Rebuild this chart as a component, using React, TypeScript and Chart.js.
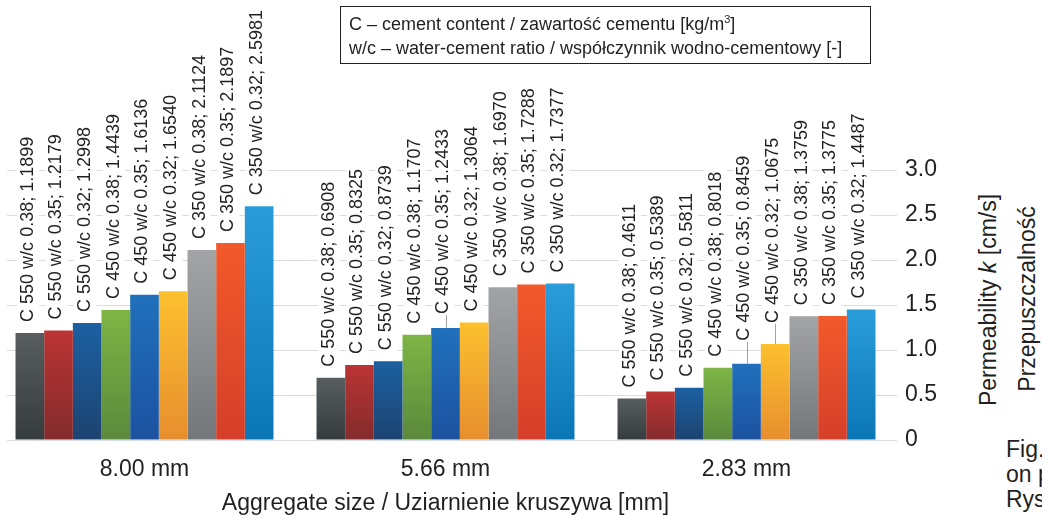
import React, { useEffect, useRef } from "react";
import { Chart, registerables } from "chart.js";

Chart.register(...registerables);

// ---- data ----
const categories = ["8.00 mm", "5.66 mm", "2.83 mm"];
const seriesNames = [
  "C 550 w/c 0.38",
  "C 550 w/c 0.35",
  "C 550 w/c 0.32",
  "C 450 w/c 0.38",
  "C 450 w/c 0.35",
  "C 450 w/c 0.32",
  "C 350 w/c 0.38",
  "C 350 w/c 0.35",
  "C 350 w/c 0.32",
];
const c550wc038 = [1.1899, 0.6908, 0.4611];
const c550wc035 = [1.2179, 0.8325, 0.5389];
const c550wc032 = [1.2998, 0.8739, 0.5811];
const c450wc038 = [1.4439, 1.1707, 0.8018];
const c450wc035 = [1.6136, 1.2433, 0.8459];
const c450wc032 = [1.654, 1.3064, 1.0675];
const c350wc038 = [2.1124, 1.697, 1.3759];
const c350wc035 = [2.1897, 1.7288, 1.3775];
const c350wc032 = [2.5981, 1.7377, 1.4487];
const seriesValues = [
  c550wc038, c550wc035, c550wc032,
  c450wc038, c450wc035, c450wc032,
  c350wc038, c350wc035, c350wc032,
];
const yTickValues = [0, 0.5, 1.0, 1.5, 2.0, 2.5, 3.0];

// ---- styles ----
const topColors = ["#585e60", "#bb3434", "#1c60a2", "#7eb545", "#2070bc", "#fcc02e", "#a2a4a6", "#f25a2b", "#2b9cda"];
const bottomColors = ["#363c3d", "#842b2c", "#1d4370", "#5a893c", "#1c52a0", "#e78e2e", "#74777a", "#d53f29", "#0b76b6"];
const FONT = "'Liberation Sans', Arial, Helvetica, sans-serif";
const TEXT = "#231f20";
// extra lift of some value labels (pixels), keyed "dataIndex-datasetIndex"; shown with a leader line
const labelLift: Record<string, number> = { "1-4": 3, "2-4": 12, "2-5": 10 };

const labelPlugin = {
  id: "barLabels",
  beforeDatasetsDraw(chart: any) {
    const { ctx, chartArea } = chart;
    ctx.save();
    ctx.fillStyle = "#ffffff";
    ctx.fillRect(0, chartArea.top - 2, 13, chartArea.bottom - chartArea.top + 4);
    ctx.restore();
  },
  afterDatasetsDraw(chart: any) {
    const { ctx } = chart;
    ctx.save();
    ctx.font = `18px ${FONT}`;
    chart.data.datasets.forEach((ds: any, di: number) => {
      const meta = chart.getDatasetMeta(di);
      meta.data.forEach((el: any, i: number) => {
        const v = ds.data[i] as number;
        const text = `${seriesNames[di]}; ${v.toFixed(4)}`;
        const lift = labelLift[`${i}-${di}`] || 0;
        const x = el.x - 2;
        const bottom = el.y - 11 - lift;
        const w = ctx.measureText(text).width;
        ctx.fillStyle = "#ffffff";
        ctx.fillRect(x - 11, bottom - w - 2, 22, w + 4);
        if (lift > 0) {
          ctx.strokeStyle = "#9ea3a8";
          ctx.lineWidth = 1;
          ctx.beginPath();
          ctx.moveTo(Math.round(el.x) + 0.5, el.y);
          ctx.lineTo(Math.round(el.x) + 0.5, bottom + 1);
          ctx.stroke();
        }
        ctx.save();
        ctx.translate(x, bottom);
        ctx.rotate(-Math.PI / 2);
        ctx.fillStyle = TEXT;
        ctx.textAlign = "left";
        ctx.textBaseline = "middle";
        ctx.fillText(text, 0, 0);
        ctx.restore();
      });
    });
    ctx.restore();
  },
};

export default function App() {
  const ref = useRef<HTMLCanvasElement | null>(null);

  useEffect(() => {
    if (!ref.current) return;
    const chart = new Chart(ref.current, {
      type: "bar",
      data: {
        labels: categories,
        datasets: seriesNames.map((name, k) => ({
          label: name,
          data: seriesValues[k],
          borderWidth: 0,
          categoryPercentage: 0.857,
          barPercentage: 1.0,
          backgroundColor: (c: any) => {
            const ch = c.chart;
            if (!ch.chartArea || c.type !== "data" || !ch.scales.y) return topColors[k];
            const v = c.raw as number;
            const yT = ch.scales.y.getPixelForValue(v);
            const yB = ch.scales.y.getPixelForValue(0);
            const g = ch.ctx.createLinearGradient(0, yT, 0, yB);
            g.addColorStop(0, topColors[k]);
            g.addColorStop(1, bottomColors[k]);
            return g;
          },
        })),
      },
      options: {
        animation: false,
        responsive: false,
        devicePixelRatio: 1,
        layout: { padding: { top: 170, left: 0, right: 0, bottom: 0 } },
        plugins: {
          legend: { display: false },
          tooltip: { enabled: false },
        },
        scales: {
          x: {
            type: "category",
            grid: { display: false },
            border: { display: false },
            afterFit: (s: any) => {
              s.height = 76;
            },
            ticks: {
              font: { family: FONT, size: 23 },
              color: TEXT,
              padding: 8,
              maxRotation: 0,
            },
            title: {
              display: true,
              text: "Aggregate size / Uziarnienie kruszywa [mm]",
              font: { family: FONT, size: 23 },
              color: TEXT,
              padding: { top: 0, bottom: -1 },
            },
          },
          y: {
            position: "right",
            min: 0,
            max: 3,
            afterFit: (s: any) => {
              s.width = 63;
            },
            afterBuildTicks: (s: any) => {
              s.ticks = yTickValues.map((v) => ({ value: v }));
            },
            grid: { color: "#d9dde2", lineWidth: 1, drawTicks: false },
            border: { display: false },
            ticks: {
              font: { family: FONT, size: 23 },
              color: TEXT,
              padding: 8,
              callback: (v: any) => (Number(v) === 0 ? "0" : Number(v).toFixed(1)),
            },
          },
        },
      },
      plugins: [labelPlugin],
    });
    return () => chart.destroy();
  }, []);

  const rot = (cx: number, cy: number): React.CSSProperties => ({
    position: "absolute",
    left: cx,
    top: cy,
    transform: "translate(-50%, -50%) rotate(-90deg)",
    whiteSpace: "nowrap",
    fontSize: 23,
    lineHeight: 1,
    color: TEXT,
  });

  return (
    <div
      style={{
        position: "fixed",
        left: 0,
        top: 0,
        width: 1042,
        height: 516,
        overflow: "hidden",
        background: "#ffffff",
        fontFamily: FONT,
      }}
    >
      <canvas
        ref={ref}
        width={966}
        height={516}
        style={{ position: "absolute", left: -6, top: 0, width: 966, height: 516 }}
      />
      <div
        style={{
          position: "absolute",
          left: 340,
          top: 6,
          width: 531,
          height: 58,
          boxSizing: "border-box",
          border: `1px solid ${TEXT}`,
          paddingLeft: 8,
          paddingTop: 5,
          fontSize: 18,
          lineHeight: "24px",
          color: TEXT,
          whiteSpace: "nowrap",
        }}
      >
        <div>
          C – cement content / zawartość cementu [kg/m
          <sup style={{ fontSize: 11, lineHeight: 0, verticalAlign: "7px" }}>3</sup>]
        </div>
        <div>w/c – water-cement ratio / współczynnik wodno-cementowy [-]</div>
      </div>
      <div style={rot(988, 300)}>
        Permeability <i>k</i> [cm/s]
      </div>
      <div style={rot(1027, 299)}>Przepuszczalność</div>
      <div
        style={{
          position: "absolute",
          left: 1006,
          top: 437,
          fontSize: 23,
          lineHeight: "25px",
          color: TEXT,
          whiteSpace: "nowrap",
        }}
      >
        <div>Fig.</div>
        <div>on p</div>
        <div>Rys</div>
      </div>
    </div>
  );
}
